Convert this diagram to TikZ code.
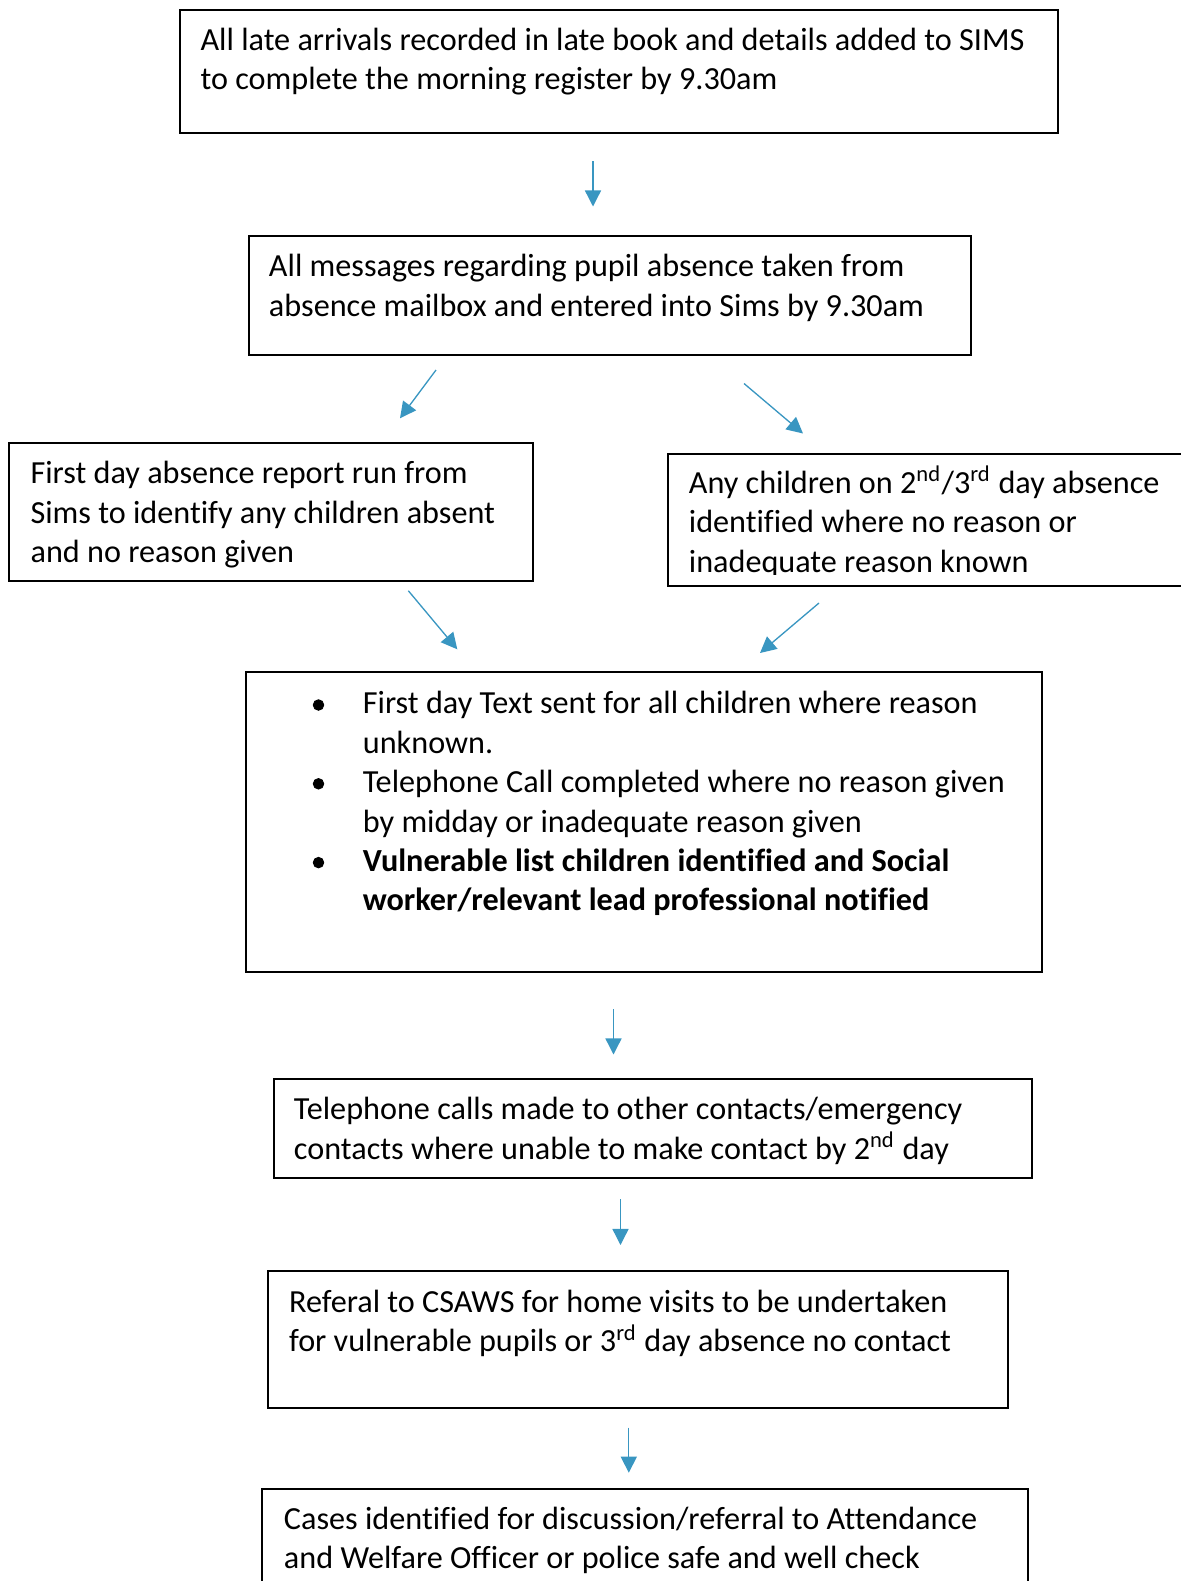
\documentclass[tikz,border=0pt]{standalone}
\usepackage{fontspec}
\setmainfont{Carlito}[Ligatures=NoCommon]
\usetikzlibrary{arrows.meta}
\definecolor{arrowblue}{RGB}{57,150,193}
\newcommand\pxu{0.3416pt}
\newcommand\firstline{\rule{0pt}{10pt}}
\begin{document}
\begin{tikzpicture}[x=0.3416pt,y=-0.3416pt,
  box/.style={draw=black, line width=0.7pt, rectangle, inner sep=0pt, anchor=north west},
  txt/.style={inner sep=0pt, anchor=north west, align=left, font=\fontsize{11pt}{13.46pt}\selectfont},
  flow/.style={draw=arrowblue, line width=0.45pt, -{Triangle[length=5.5pt,width=5.5pt]}},
  bulletdot/.style={circle, fill=black, draw=black, line width=0.3pt, inner sep=0pt, minimum size=3.6pt}
]
\path[use as bounding box] (0,0) rectangle (1181,1581);
\clip (0,0) rectangle (1181,1581);

% Box 1
\node[box, minimum width={878*\pxu}, minimum height={122.2*\pxu}] (b1) at (178.5,9.3) {};
\node[txt] (t1) at (200,20.7) {\firstline All late arrivals recorded in late book and details added to SIMS\\to complete the morning register by 9.30am};

% Box 2
\node[box, minimum width={721.4*\pxu}, minimum height={119*\pxu}] (b2) at (248.2,235) {};
\node[txt] (t2) at (268.4,247) {\firstline All messages regarding pupil absence taken from\\absence mailbox and entered into Sims by 9.30am};

% Box 3
\node[box, minimum width={523.4*\pxu}, minimum height={138.3*\pxu}] (b3) at (8.3,441.7) {};
\node[txt] (t3) at (30,454) {\firstline First day absence report run from\\Sims to identify any children absent\\and no reason given};

% Box 4
\node[box, minimum width={540*\pxu}, minimum height={132.5*\pxu}] (b4) at (667,452.5) {};
\begin{scope}
\clip (667,452.5) rectangle (1181,574);
\node[txt] (t4) at (688.3,463.7) {\firstline Any children on 2\textsuperscript{nd}/3\textsuperscript{rd} day absence\\identified where no reason or\\inadequate reason known};
\end{scope}

% Box 5
\node[box, minimum width={795.6*\pxu}, minimum height={300*\pxu}] (b5) at (245.1,671) {};
\node[txt] (t5) at (362.3,684) {\firstline First day Text sent for all children where reason\\unknown.\\Telephone Call completed where no reason given\\by midday or inadequate reason given\\\textbf{Vulnerable list children identified and Social}\\\textbf{worker/relevant lead professional notified}};
\node[bulletdot] (d1) at (318.5,705) {};
\node[bulletdot] (d2) at (318.5,783.8) {};
\node[bulletdot] (d3) at (318.5,862.6) {};

% Box 6
\node[box, minimum width={757.9*\pxu}, minimum height={99*\pxu}] (b6) at (273.3,1078.3) {};
\node[txt] (t6) at (293.4,1090) {\firstline Telephone calls made to other contacts/emergency\\contacts where unable to make contact by 2\textsuperscript{nd} day};

% Box 7
\node[box, minimum width={739.8*\pxu}, minimum height={136.7*\pxu}] (b7) at (266.9,1270) {};
\node[txt] (t7) at (288.5,1282.4) {\firstline Referal to CSAWS for home visits to be undertaken\\for vulnerable pupils or 3\textsuperscript{rd} day absence no contact};

% Box 8
\node[box, minimum width={765.3*\pxu}, minimum height={130*\pxu}] (b8) at (261.4,1487.7) {};
\node[txt] (t8) at (283.4,1499.7) {\firstline Cases identified for discussion/referral to Attendance\\and Welfare Officer or police safe and well check};

% Arrows
\coordinate (a1s) at (593,161);   \coordinate (a1e) at (593,206.5);
\coordinate (a2s) at (436,370);   \coordinate (a2e) at (400,418.3);
\coordinate (a3s) at (744,383.5); \coordinate (a3e) at (803,433.5);
\coordinate (a4s) at (408.3,590.7); \coordinate (a4e) at (457.3,649.3);
\coordinate (a5s) at (819,603);   \coordinate (a5e) at (760,653);
\coordinate (a6s) at (613.5,1009); \coordinate (a6e) at (613.5,1054.5);
\coordinate (a7s) at (620.5,1199.3); \coordinate (a7e) at (620.5,1245);
\coordinate (a8s) at (628.8,1427.7); \coordinate (a8e) at (628.8,1472.7);
\draw[flow] (a1s) -- (a1e);
\draw[flow] (a2s) -- (a2e);
\draw[flow] (a3s) -- (a3e);
\draw[flow] (a4s) -- (a4e);
\draw[flow] (a5s) -- (a5e);
\draw[flow] (a6s) -- (a6e);
\draw[flow] (a7s) -- (a7e);
\draw[flow] (a8s) -- (a8e);
\end{tikzpicture}
\end{document}
